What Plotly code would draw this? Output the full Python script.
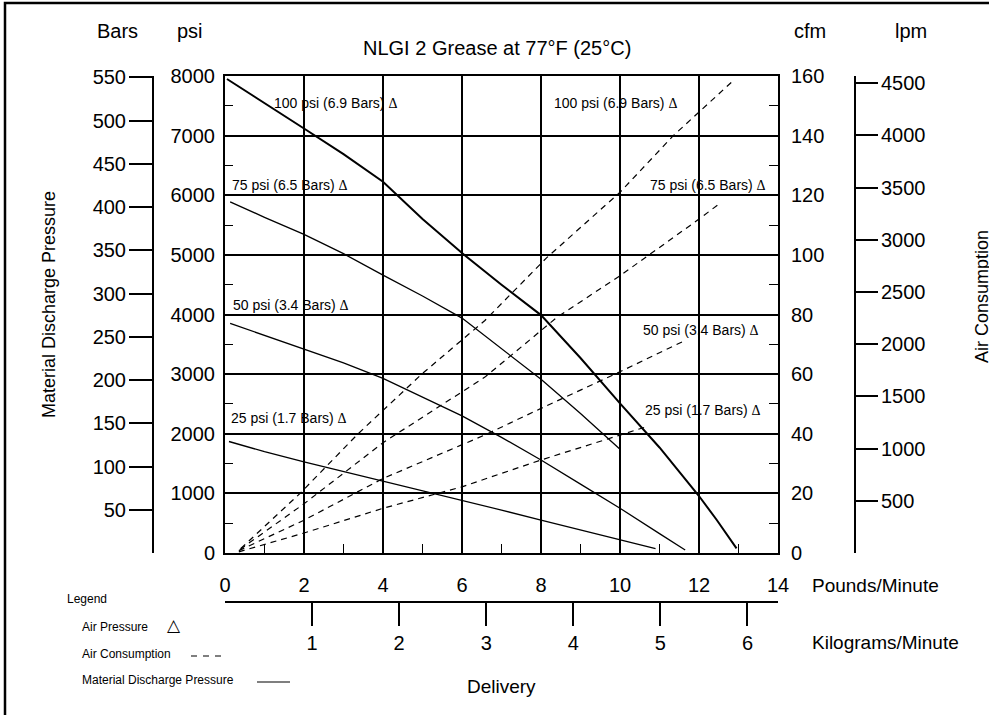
import plotly.graph_objects as go

# ---------------- data ----------------
# Material discharge pressure (psi) vs delivery (lb/min)
lb_100 = [0.05, 1, 2, 3, 4, 5, 6, 7, 8, 9, 10, 11, 12, 12.45, 12.95]
psi_100 = [7950, 7550, 7120, 6690, 6227, 5600, 5030, 4500, 3990, 3270, 2510, 1770, 956, 553, 78]
lb_75 = [0.13, 1, 2, 3, 4, 5, 6, 7, 8, 9, 10]
psi_75 = [5890, 5630, 5345, 5020, 4660, 4310, 3940, 3430, 2913, 2340, 1740]
lb_50 = [0.13, 1, 2, 3, 4, 5, 6, 7, 8, 9, 10, 11, 11.65]
psi_50 = [3850, 3650, 3433, 3190, 2930, 2620, 2300, 1940, 1560, 1155, 750, 325, 50]
lb_25 = [0.1, 1, 2, 3, 4, 5, 6, 7, 8, 9, 10, 10.9]
psi_25 = [1870, 1700, 1530, 1370, 1207, 1050, 890, 720, 553, 385, 218, 75]

# Air consumption (cfm) vs delivery (lb/min)
lbA_100 = [0.4, 1.9, 3.37, 4.98, 6.58, 8.14, 10, 11.35, 12.83]
cfm_100 = [1.5, 20, 40, 60, 78, 99, 121, 140, 158]
lbA_75 = [0.38, 2, 4, 6.58, 8.4, 10, 12, 12.55]
cfm_75 = [1.2, 16.5, 37, 59, 79, 93, 112, 117.5]
lbA_50 = [0.35, 2, 4, 6.58, 8, 10, 11.6]
cfm_50 = [0.8, 11, 25, 39.6, 48.5, 60.8, 71]
lbA_25 = [0.35, 2, 4, 6, 8, 10, 10.68]
cfm_25 = [0.4, 6.7, 15, 22.2, 31.2, 39.6, 42.4]

air_labels = ["100 psi (6.9 Bars)", "75 psi (6.5 Bars)", "50 psi (3.4 Bars)", "25 psi (1.7 Bars)"]

lb_range = [0, 14]
psi_range = [0, 8000]
cfm_range = [0, 160]
bar_ticks = [50, 100, 150, 200, 250, 300, 350, 400, 450, 500, 550]
lpm_ticks = [500, 1000, 1500, 2000, 2500, 3000, 3500, 4000, 4500]
kg_ticks = [1, 2, 3, 4, 5, 6]
LB_PER_KG = 2.20462
PSI_PER_BAR = 14.5038
LPM_TOP = 4570

# ---------------- layout helpers ----------------
W, H = 989, 715
FONT = "Liberation Sans, Arial, sans-serif"


def fx(x):
    return x / W


def fy(y):
    return 1 - y / H


PL, PR, PT, PB = 225, 778, 76, 553  # plot area in pixels


def ann(text, x, y, size, xanchor="center", yanchor="middle", angle=0, family=FONT):
    return dict(text=text, x=fx(x), y=fy(y), xref="paper", yref="paper",
                xanchor=xanchor, yanchor=yanchor, showarrow=False, textangle=angle,
                font=dict(size=size, color="black", family=family))


fig = go.Figure()

for xs, ys, w in [(lb_100, psi_100, 2.0), (lb_75, psi_75, 1.3), (lb_50, psi_50, 1.3), (lb_25, psi_25, 1.3)]:
    fig.add_trace(go.Scatter(x=xs, y=ys, mode="lines", line=dict(color="black", width=w),
                             showlegend=False, hoverinfo="skip", xaxis="x", yaxis="y"))
for xs, ys in [(lbA_100, cfm_100), (lbA_75, cfm_75), (lbA_50, cfm_50), (lbA_25, cfm_25)]:
    fig.add_trace(go.Scatter(x=xs, y=ys, mode="lines",
                             line=dict(color="black", width=1.2, dash="6px,5px"),
                             showlegend=False, hoverinfo="skip", xaxis="x", yaxis="y2"))
# invisible traces to register the extra scale axes
for xa, ya in [("x2", "y"), ("x3", "y"), ("x", "y3"), ("x", "y4")]:
    fig.add_trace(go.Scatter(x=[None], y=[None], mode="markers", showlegend=False,
                             hoverinfo="skip", xaxis=xa, yaxis=ya))

xdom = [fx(PL), fx(PR)]
ydom = [fy(PB), fy(PT)]
tickfont = dict(size=20, color="black", family=FONT)

fig.update_layout(
    template="none",
    width=W, height=H,
    margin=dict(l=0, r=0, t=0, b=0, pad=0),
    paper_bgcolor="white", plot_bgcolor="white",
    showlegend=False,
    font=dict(family=FONT, color="black"),
    xaxis=dict(domain=xdom, range=lb_range, dtick=2, tick0=0, showgrid=True, gridcolor="black",
               gridwidth=2, showticklabels=False, ticks="", showline=True, linecolor="black",
               linewidth=2, mirror=True, zeroline=False, automargin=False,
               minor=dict(dtick=1, ticks="inside", ticklen=9, tickwidth=1.3, tickcolor="black",
                          showgrid=False)),
    yaxis=dict(domain=ydom, range=psi_range, dtick=1000, tick0=0, showgrid=True, gridcolor="black",
               gridwidth=2, ticks="", showticklabels=True, tickfont=tickfont, showline=True,
               linecolor="black", linewidth=2, mirror=True, zeroline=False, automargin=False,
               ticklabelstandoff=4,
               minor=dict(dtick=500, ticks="inside", ticklen=8, tickwidth=1.3, tickcolor="black",
                          showgrid=False)),
    yaxis2=dict(overlaying="y", side="right", anchor="x", range=cfm_range, dtick=20, tick0=0,
                showgrid=False, ticks="", tickfont=tickfont, showline=False, zeroline=False,
                automargin=False, ticklabelstandoff=12,
                minor=dict(dtick=10, ticks="inside", ticklen=9, tickwidth=1.3, tickcolor="black",
                           showgrid=False)),
    yaxis3=dict(overlaying="y", side="left", anchor="free", position=fx(153),
                range=[0, psi_range[1] / PSI_PER_BAR], tickvals=bar_ticks, ticks="outside",
                ticklen=23, tickwidth=2, tickcolor="black", showline=True, linecolor="black",
                linewidth=2, showgrid=False, zeroline=False, tickfont=tickfont, automargin=False,
                ticklabelstandoff=-1),
    yaxis4=dict(overlaying="y", side="right", anchor="free", position=fx(855),
                range=[0, LPM_TOP], tickvals=lpm_ticks, ticks="outside", ticklen=22, tickwidth=2,
                tickcolor="black", showline=True, linecolor="black", linewidth=2, showgrid=False,
                zeroline=False, tickfont=tickfont, automargin=False, ticklabelstandoff=-1),
    xaxis2=dict(overlaying="x", side="top", anchor="free", position=fy(602), range=lb_range,
                dtick=2, tick0=0, ticks="", showline=True, linecolor="black", linewidth=2,
                showgrid=False, zeroline=False, tickfont=tickfont, automargin=False,
                ticklabelstandoff=1),
    xaxis3=dict(overlaying="x", side="bottom", anchor="free", position=fy(602),
                range=[0, lb_range[1] / LB_PER_KG], tickvals=kg_ticks, ticks="outside", ticklen=23,
                tickwidth=2, tickcolor="black", showline=False, showgrid=False, zeroline=False,
                tickfont=tickfont, automargin=False, ticklabelstandoff=0),
)

delta = ' <span style="font-family:Liberation Serif">Δ</span>'
annotations = [
    ann("NLGI 2 Grease at 77°F (25°C)", 497, 48, 20),
    ann("Bars", 117, 31, 20),
    ann("psi", 190, 31, 20),
    ann("cfm", 810, 31, 20),
    ann("lpm", 911, 31, 20),
    ann("Material Discharge Pressure", 49, 305, 18, angle=-90),
    ann("Air Consumption", 982, 297, 18, angle=-90),
    ann("Pounds/Minute", 810, 585, 19, xanchor="left"),
    ann("Kilograms/Minute", 810, 642, 19, xanchor="left"),
    ann("Delivery", 502, 686, 19),
    ann("Legend", 65, 599, 12, xanchor="left"),
    ann("Air Pressure", 80, 627, 12, xanchor="left"),
    ann("△", 174, 625, 17, family="DejaVu Sans"),
    ann("Air Consumption", 80, 654, 12, xanchor="left"),
    ann("Material Discharge Pressure", 80, 680, 12, xanchor="left"),
]
left_pos = [(272, 103), (230, 185), (231, 305), (229, 418)]
right_pos = [(552, 103), (648, 185), (641, 330), (643, 410)]
for lab, (lx, ly), (rx, ry) in zip(air_labels, left_pos, right_pos):
    annotations.append(ann(lab + delta, lx, ly, 14, xanchor="left"))
    annotations.append(ann(lab + delta, rx, ry, 14, xanchor="left"))

shapes = [
    dict(type="rect", xref="paper", yref="paper", x0=fx(5), x1=1.2, y0=-0.2, y1=fy(3),
         line=dict(color="black", width=2.5), fillcolor="rgba(0,0,0,0)", layer="above"),
    dict(type="line", xref="paper", yref="paper", x0=fx(191), x1=fx(221), y0=fy(656), y1=fy(656),
         line=dict(color="black", width=1.2, dash="6px,6px")),
    dict(type="line", xref="paper", yref="paper", x0=fx(257), x1=fx(290), y0=fy(682), y1=fy(682),
         line=dict(color="black", width=1.2)),
]
fig.update_layout(annotations=annotations, shapes=shapes)

fig.write_html("out.html", config={"displayModeBar": False},
               post_script="document.body.style.margin='0';document.body.style.overflow='hidden';")
